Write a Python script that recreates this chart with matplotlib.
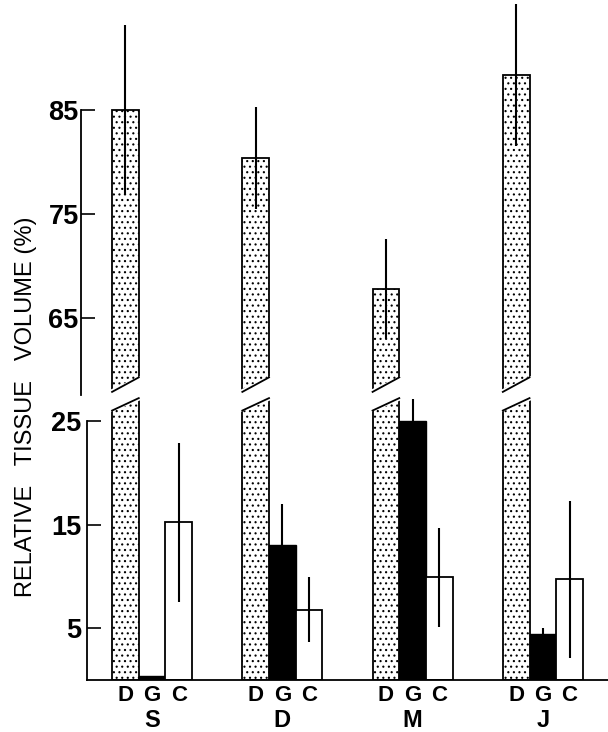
import numpy as np
import matplotlib
matplotlib.use("Agg")
from matplotlib import pyplot as plt
from matplotlib.transforms import blended_transform_factory

# data
groups = ['S', 'D', 'M', 'J']
bar_names = ['D', 'G', 'C']
d_vals = [85.0, 80.4, 67.8, 88.4]
d_err = [8.2, 4.9, 4.8, 6.8]
g_vals = [0.4, 13.0, 25.0, 4.4]
g_err = [0.0, 4.0, 2.1, 0.6]
c_vals = [15.2, 6.8, 9.9, 9.7]
c_err = [7.7, 3.1, 4.8, 7.6]
lower_ticks = [5, 15, 25]
upper_ticks = [65, 75, 85]

plt.rcParams['font.family'] = ['Liberation Sans', 'DejaVu Sans']
plt.rcParams['hatch.linewidth'] = 0.8

fig = plt.figure(figsize=(6.08, 7.32), dpi=100)
W, H = 608.0, 732.0
ax_lo = fig.add_axes([87 / W, (H - 680) / H, (W - 87) / W, 285 / H])
ax_hi = fig.add_axes([87 / W, (H - 395) / H, (W - 87) / W, 395 / H])
ax_lo.set_zorder(3)
ax_lo.patch.set_visible(False)

# spine layout first (moving a spine resets the tick labels)
ax_hi.spines['left'].set_position(('outward', 4))
ax_hi.spines['bottom'].set_visible(False)

w = 0.205
x = np.arange(len(groups))
xd, xg, xc = x - w, x, x + w

for ax in (ax_lo, ax_hi):
    ax.bar(xd, d_vals, w, color='white', edgecolor='black', hatch='...', linewidth=1.3)
    ax.bar(xg, g_vals, w, color='black', edgecolor='black', linewidth=1.0)
    ax.bar(xc, c_vals, w, color='white', edgecolor='black', linewidth=1.3)
    ax.errorbar(xd, d_vals, yerr=d_err, fmt='none', ecolor='black', elinewidth=1.5, capsize=0)
    ax.errorbar(xg, g_vals, yerr=g_err, fmt='none', ecolor='black', elinewidth=1.5, capsize=0)
    ax.errorbar(xc, c_vals, yerr=c_err, fmt='none', ecolor='black', elinewidth=1.5, capsize=0)
    ax.set_xlim(-0.5, 3.5)
    ax.set_xticks([])
    ax.spines['top'].set_visible(False)
    ax.spines['right'].set_visible(False)
    ax.spines['left'].set_linewidth(1.3)

ax_lo.tick_params(axis='y', direction='in', length=10, width=1.2, pad=4)
ax_hi.tick_params(axis='y', direction='in', length=10, width=1.2, pad=2)
ax_lo.set_ylim(0, 27.5)
ax_hi.set_ylim(57.6, 95.6)
ax_lo.set_yticks(lower_ticks, [str(v) for v in lower_ticks],
                 fontsize=19.5, fontweight='bold')
ax_hi.set_yticks(upper_ticks, [str(v) for v in upper_ticks],
                 fontsize=19.5, fontweight='bold')
ax_lo.spines['left'].set_bounds(0, 25)
ax_hi.spines['left'].set_bounds(57.6, 85)
ax_lo.spines['bottom'].set_linewidth(1.3)

# broken bar edges
pad = 0.02
for xi in xd:
    x0, x1 = xi - w / 2, xi + w / 2
    ax_lo.fill([x0 - pad, x1 + pad, x1 + pad, x0 - pad],
               [26.0 - 0.1, 27.2 - 0.1, 29.2 + 0.1, 27.8 + 0.1],
               color='white', zorder=5, clip_on=False)
    ax_lo.plot([x0, x1], [26.0, 27.2], color='black', lw=1.3, zorder=6, clip_on=False)
    ax_lo.plot([x0, x1], [27.8, 29.2], color='black', lw=1.3, zorder=6, clip_on=False)

# bar labels and group labels
trans = blended_transform_factory(ax_lo.transData, ax_lo.transAxes)
for pos, name in zip((xd, xg, xc), bar_names):
    for xi in pos:
        ax_lo.text(xi, -0.056, name, transform=trans, ha='center', va='center',
                   fontsize=16, fontweight='bold')
for xi, g in zip(x, groups):
    ax_lo.text(xi, -0.143, g, transform=trans, ha='center', va='center',
               fontsize=17, fontweight='bold')

fig.text(0.043, 0.444, 'RELATIVE   TISSUE   VOLUME (%)', rotation=90,
         ha='center', va='center', fontsize=17)

fig.savefig('out.png', dpi=100)
